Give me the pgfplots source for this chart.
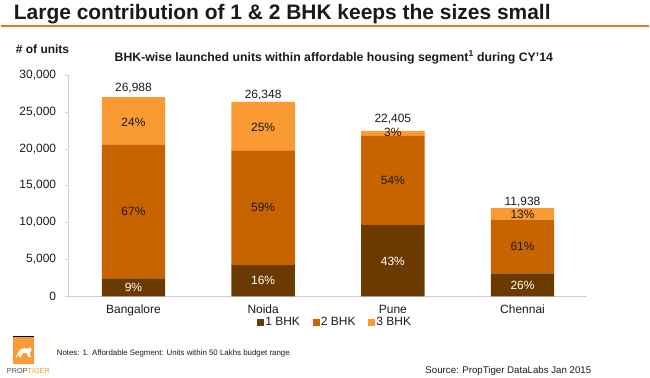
\documentclass[border=0pt]{standalone}
\usepackage{pgfplots}
\pgfplotsset{compat=1.18}
\usepackage{fontspec}
\setmainfont{Liberation Sans}
\definecolor{bhkone}{HTML}{6B3A00}
\definecolor{bhktwo}{HTML}{C86400}
\definecolor{bhkthree}{HTML}{F99B32}
\definecolor{titleline}{HTML}{E8771E}
\definecolor{axgrey}{HTML}{D0D0D0}
\definecolor{txt}{HTML}{1A1A1A}
\begin{document}
\begin{tikzpicture}[x=1pt,y=1pt,lbl/.style={font=\fontsize{12}{14}\selectfont,text=txt}]
\begin{axis}[
  scale only axis, width=520pt, height=222pt,
  ybar stacked, bar width=63.5pt,
  xmin=-0.5, xmax=3.5, ymin=0, ymax=30000,
  xtick={0,1,2,3}, xticklabels={Bangalore,Noida,Pune,Chennai},
  extra x ticks={0.5,1.5,2.5,3.5}, extra x tick labels={},
  extra x tick style={major tick length=4pt, major tick style={draw=axgrey}},
  major x tick style={draw=none},
  ytick={0,5000,10000,15000,20000,25000,30000},
  scaled y ticks=false,
  yticklabel style={/pgf/number format/fixed,/pgf/number format/1000 sep={,}},
  /pgf/number format/assume math mode=true,
  major y tick style={draw=axgrey}, major tick length=4pt,
  tick align=outside,
  axis x line*=bottom, axis y line*=left,
  axis line style={draw=axgrey},
  ticklabel style={font=\fontsize{12}{14}\selectfont,text=txt},
  xticklabel style={yshift=-1pt},
  yticklabel style={xshift=-5pt},
  legend style={at={(0.513,-0.116)}, anchor=center, draw=none, legend columns=3,
     /tikz/every even column/.append style={column sep=12pt},
     nodes={inner xsep=1pt, font=\fontsize{12}{14}\selectfont, text=txt}},
  legend image code/.code={\fill[#1] (0pt,-3.5pt) rectangle (7pt,3.5pt);},
  clip=false,
]
\addplot[fill=bhkone,draw=none] coordinates {(0,2429) (1,4216) (2,9634) (3,3104)};
\addplot[fill=bhktwo,draw=none] coordinates {(0,18082) (1,15545) (2,12099) (3,7282)};
\addplot[fill=bhkthree,draw=none] coordinates {(0,6477) (1,6587) (2,672) (3,1552)};
\legend{1 BHK,2 BHK,3 BHK}
\coordinate (a1) at (axis cs:0,1215);
\coordinate (a2) at (axis cs:1,2108);
\coordinate (a3) at (axis cs:2,4790);
\coordinate (a4) at (axis cs:3,1500);
\coordinate (b1) at (axis cs:0,11470);
\coordinate (b2) at (axis cs:1,11989);
\coordinate (b3) at (axis cs:2,15750);
\coordinate (b4) at (axis cs:3,6745);
\coordinate (c1) at (axis cs:0,23600);
\coordinate (c2) at (axis cs:1,22900);
\coordinate (c3) at (axis cs:2,22250);
\coordinate (c4) at (axis cs:3,11130);
\coordinate (t1) at (axis cs:0,26988);
\coordinate (t2) at (axis cs:1,26348);
\coordinate (t3) at (axis cs:2,22405);
\coordinate (t4) at (axis cs:3,11938);
\end{axis}
\node[lbl,text=white] at (a1) {9\%};
\node[lbl,text=white] at (a2) {16\%};
\node[lbl,text=white] at (a3) {43\%};
\node[lbl,text=white] at (a4) {26\%};
\node[lbl] at (b1) {67\%};
\node[lbl] at (b2) {59\%};
\node[lbl] at (b3) {54\%};
\node[lbl] at (b4) {61\%};
\node[lbl] at (c1) {24\%};
\node[lbl] at (c2) {25\%};
\node[lbl] at (c3) {3\%};
\node[lbl] at (c4) {13\%};
\node[lbl] at ([yshift=9pt]t1) {26,988};
\node[lbl] at ([yshift=6.7pt]t2) {26,348};
\node[lbl] at ([yshift=12pt]t3) {22,405};
\node[lbl] at ([yshift=6.6pt]t4) {11,938};
\begin{scope}[shift={(-68,-81)}]
\path (0,0) rectangle (650,378);
\node[anchor=base west,inner sep=0pt,text=txt,font=\bfseries\fontsize{21}{24}\selectfont] at (13,358.7) {Large contribution of 1 \& 2 BHK keeps the sizes small};
\draw[titleline,line width=1.5pt] (0,352) -- (650,352);
\node[anchor=base west,inner sep=0pt,text=txt,font=\bfseries\fontsize{12}{14}\selectfont] at (15,324.7) {\# of units};
\node[anchor=base west,inner sep=0pt,text=txt,font=\bfseries\fontsize{12.3}{14}\selectfont] at (114,316.6) {BHK-wise launched units within affordable housing segment\textsuperscript{1} during CY'14};
% logo
\fill[bhkthree] (12,13) rectangle (33,41);
\fill[black] (12,39.8) rectangle (33,41);
\fill[white] (15,19) -- (17,24) -- (20,28) -- (24,29) -- (27,28.5) -- (30,30) -- (31,27) -- (29,24) -- (30,20) -- (28,20) -- (26,24) -- (22,24) -- (20,20) -- (18,20) -- (19,24) -- cycle;
\node[anchor=base west,inner sep=0pt,font=\fontsize{7.3}{8}\selectfont, text=black!70] at (6,3.7) {PROP\textcolor{bhkthree}{TIGER}};
\node[anchor=base west,inner sep=0pt,text=txt,font=\fontsize{7.9}{9}\selectfont] at (56,22.1) {Notes: 1. Affordable Segment: Units within 50 Lakhs budget range};
\node[anchor=base east,inner sep=0pt,text=txt,font=\fontsize{9.7}{11}\selectfont] at (592,3.8) {Source: PropTiger DataLabs Jan 2015};
\end{scope}
\end{tikzpicture}
\end{document}
